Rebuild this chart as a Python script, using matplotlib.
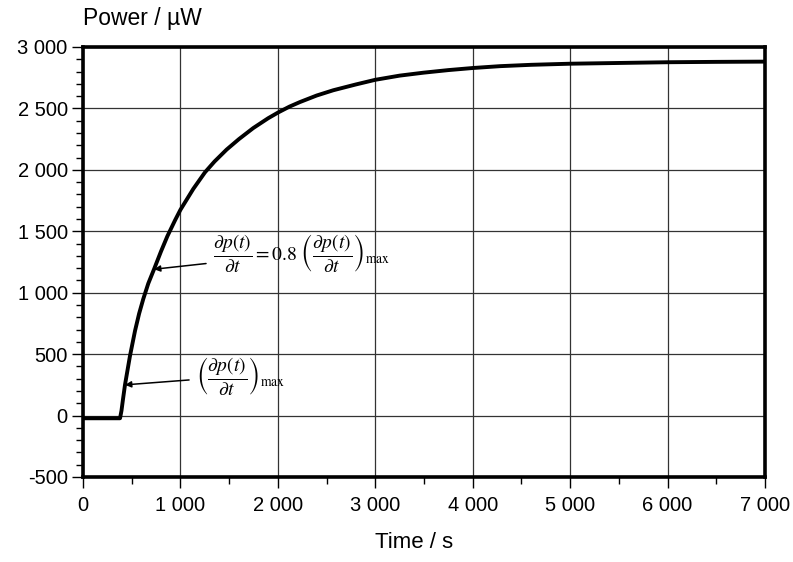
import matplotlib
matplotlib.use("Agg")
import matplotlib.pyplot as plt
from matplotlib.ticker import MultipleLocator, FuncFormatter

plt.rcParams['font.family'] = ['Liberation Sans', 'DejaVu Sans']
plt.rcParams['mathtext.fontset'] = 'stix'

# Data
time_s = [0, 200, 380, 395, 410, 431, 482, 534, 576, 619, 670, 729, 800, 866,
          945, 1000, 1132, 1252, 1350, 1474, 1600, 1747, 1900, 2005, 2120,
          2227, 2398, 2569, 2800, 3000, 3250, 3495, 3750, 4000, 4280, 4600,
          5000, 5500, 6000, 6500, 7000]
power_uw = [-22, -22, -22, 40, 130, 250, 485, 690, 830, 950, 1075, 1191, 1335,
            1460, 1590, 1675, 1845, 1980, 2068, 2165, 2250, 2340, 2420, 2468,
            2515, 2552, 2605, 2648, 2695, 2733, 2767, 2791, 2812, 2829, 2844,
            2855, 2864, 2870, 2876, 2879, 2881]

x_ticks = [0, 1000, 2000, 3000, 4000, 5000, 6000, 7000]
y_ticks = [-500, 0, 500, 1000, 1500, 2000, 2500, 3000]

fig = plt.figure(figsize=(7.93, 5.62), dpi=100)
ax = fig.add_axes([83/793, 1 - 477/562, (765 - 83)/793, (477 - 47)/562])

ax.plot(time_s, power_uw, color='black', lw=2.8, solid_joinstyle='round',
        solid_capstyle='round', zorder=3)

ax.set_xlim(0, 7000)
ax.set_ylim(-500, 3000)
ax.set_xticks(x_ticks)
ax.set_yticks(y_ticks)
ax.xaxis.set_minor_locator(MultipleLocator(500))
ax.yaxis.set_minor_locator(MultipleLocator(100))

def fmt(v, pos):
    return f"{int(round(v)):,}".replace(",", " ")
ax.xaxis.set_major_formatter(FuncFormatter(fmt))
ax.yaxis.set_major_formatter(FuncFormatter(fmt))

ax.grid(True, which='major', color='#333333', lw=0.9)
for sp in ax.spines.values():
    sp.set_linewidth(2.6)
ax.tick_params(axis='both', which='major', direction='out', length=8, width=1,
               labelsize=14.5)
ax.tick_params(axis='y', which='major', pad=3)
ax.tick_params(axis='x', which='major', pad=6)
ax.tick_params(axis='both', which='minor', direction='out', length=5, width=1)

fig.text(83/793, 1 - 18/562, "Power / µW", fontsize=16.5, ha='left', va='center')
fig.text(414/793, 1 - 542/562, "Time / s", fontsize=16, ha='center', va='center')

ax.annotate(r'$\dfrac{\partial p(t)}{\partial t} = 0.8\ \left(\dfrac{\partial p(t)}{\partial t}\right)_{\max}$',
            xy=(729, 1191), xytext=(1334, 1323), fontsize=14,
            ha='left', va='center',
            arrowprops=dict(arrowstyle='-|>', color='black', lw=1.1,
                            mutation_scale=9, shrinkA=3, shrinkB=0))
ax.annotate(r'$\left(\dfrac{\partial p(t)}{\partial t}\right)_{\max}$',
            xy=(431, 250), xytext=(1160, 322), fontsize=14,
            ha='left', va='center',
            arrowprops=dict(arrowstyle='-|>', color='black', lw=1.1,
                            mutation_scale=9, shrinkA=3, shrinkB=0))

fig.savefig("out.png", dpi=100)
